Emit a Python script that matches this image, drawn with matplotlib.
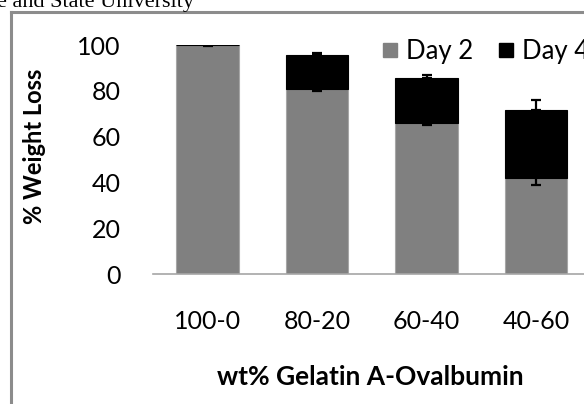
import matplotlib.pyplot as plt
from matplotlib.lines import Line2D
import numpy as np

# data
categories = ["100-0", "80-20", "60-40", "40-60"]
day2 = [100, 81, 66, 42]
day4_extra = [0, 14.5, 19.8, 29.6]
day2_err = [0.4, 1.1, 1.1, 3.3]
day4_err = [0, 0.9, 1.3, 4.5]

W, H = 584, 404
fig = plt.figure(figsize=(W / 100, H / 100), dpi=100)

# axes placed in pixels (right end runs past the picture like the crop)
x0, x1 = 152.75, 590.75
y0, y1 = 274, 45
ax = fig.add_axes([x0 / W, 1 - y0 / H, (x1 - x0) / W, (y0 - y1) / H])

x = np.arange(len(categories))
total = np.array(day2) + np.array(day4_extra)

ax.bar(x, day2, width=0.575, color="#808080", edgecolor="#a6a6a6",
       linewidth=0.8, zorder=2)
ax.errorbar(x, day2, yerr=day2_err, fmt="none", ecolor="black",
            elinewidth=1.6, capsize=3.6, capthick=1.6, zorder=3)
ax.bar(x, day4_extra, bottom=day2, width=0.575, color="black",
       edgecolor="black", linewidth=0.8, zorder=4)
ax.errorbar(x[1:], total[1:], yerr=[np.zeros(3), day4_err[1:]], fmt="none",
            ecolor="black", elinewidth=1.6, capsize=3.6, capthick=1.6,
            zorder=5)

ax.set_xlim(-0.5, 3.5)
ax.set_ylim(0, 100)
ax.set_yticks([0, 20, 40, 60, 80, 100])
ax.set_xticks(x)
ax.set_xticklabels(categories)
for s in ["top", "right", "left"]:
    ax.spines[s].set_visible(False)
ax.spines["bottom"].set_color("#a6a6a6")
ax.spines["bottom"].set_linewidth(1.2)
ax.tick_params(axis="both", length=0, labelsize=18, colors="black")
ax.tick_params(axis="y", pad=23)
ax.tick_params(axis="x", pad=26)
for lab in ax.get_xticklabels() + ax.get_yticklabels():
    lab.set_family("Lato")

fig.text(35 / W, 1 - 146 / H, "% Weight Loss", rotation=90, ha="center",
         va="center", fontsize=17, fontweight="bold", family="Lato")
fig.text(370 / W, 1 - 377 / H, "wt% Gelatin A-Ovalbumin", ha="center",
         va="center", fontsize=19, fontweight="bold", family="Lato")

handles = [Line2D([], [], marker="s", linestyle="none", markersize=10,
                  color="#808080"),
           Line2D([], [], marker="s", linestyle="none", markersize=10,
                  color="black")]
fig.legend(handles, ["Day 2", "Day 4"], loc="center left",
           bbox_to_anchor=(378 / W, 1 - 51 / H), ncol=2, frameon=False,
           prop={"family": "Lato", "size": 18.5}, handletextpad=0.2,
           columnspacing=0.8, handlelength=0.9, borderpad=0,
           borderaxespad=0)

# outer frame of the pasted chart and the cut-off text above it
fig.add_artist(Line2D([11 / W, 11 / W], [0, 1 - 12 / H], color="#8c8c8c",
                      linewidth=2.2))
fig.add_artist(Line2D([11 / W, 1], [1 - 12 / H, 1 - 12 / H],
                      color="#8c8c8c", linewidth=2.2))
fig.text(-3 / W, 1 - 7 / H, "e and State University", ha="left",
         va="baseline", fontsize=16, family="Liberation Serif")

fig.savefig("out.png", dpi=100)
